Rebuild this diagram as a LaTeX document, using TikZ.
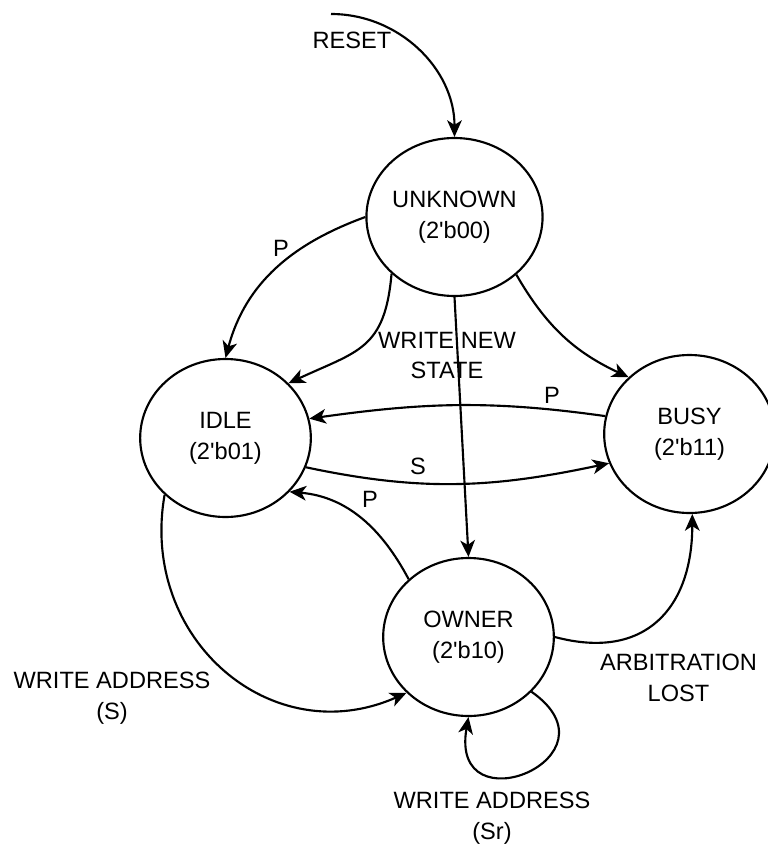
\documentclass[tikz,border=0pt]{standalone}
\usepackage{fontspec}
\setmainfont{Liberation Sans}
\usetikzlibrary{shapes,shapes.geometric,arrows.meta,calc}
\tikzset{
  st_font/.style = {font=\fontsize{17.7}{23}\selectfont},
  st_n/.style = {ellipse, draw=black, line width=1.6pt, minimum width=128pt, minimum height=118.5pt, inner sep=0pt, align=center, st_font},
  lbl_t/.style = {align=center, inner sep=0pt, st_font},
  arr_e/.style = {line width=1.6pt, -{Stealth[length=12.5pt,width=11pt,inset=3.5pt]}}
}

\begin{document}
\begin{tikzpicture}[x=0.75pt,y=0.75pt]
\useasboundingbox (0,0) rectangle (767,-845);
\node [st_n] (unknown) at (454.5,-217) {UNKNOWN\\(2\textquotesingle b00)};
\node [st_n] (idle) at (225.5,-438) {IDLE\\(2\textquotesingle b01)};
\node [st_n] (busy) at (689.5,-434) {BUSY\\(2\textquotesingle b11)};
\node [st_n] (owner) at (468.5,-637) {OWNER\\(2\textquotesingle b10)};
\coordinate (rst) at (331,-14);

\node [lbl_t] (l_reset) at (352,-40) {RESET};
\node [lbl_t] (l_p_ui) at (281,-248) {P};
\node [lbl_t] (l_wns) at (447,-355.5) {WRITE NEW\\STATE};
\node [lbl_t] (l_p_bi) at (552,-395) {P};
\node [lbl_t] (l_s_ib) at (418,-466) {S};
\node [lbl_t] (l_p_oi) at (370,-499) {P};
\node [lbl_t] (l_wa_s) at (112,-698.5) {WRITE ADDRESS\\(S)};
\node [lbl_t] (l_arb) at (678.5,-678) {ARBITRATION\\LOST};
\node [lbl_t] (l_wa_sr) at (492,-818.5) {WRITE ADDRESS\\(Sr)};

\draw [arr_e] (rst) to[out=0,in=90] (unknown.90);
\draw [arr_e] (unknown.180) to[out=200,in=75] (idle.90);
\draw [arr_e] (unknown.222) to[out=265,in=25,looseness=1.3] (idle.41);
\draw [arr_e] (unknown.270) -- (owner.90);
\draw [arr_e] (unknown.317) to[out=300,in=155] (busy.137);
\draw [arr_e] (busy.168) to[out=172,in=8] (idle.13);
\draw [arr_e] (idle.340) to[out=-12,in=192] (busy.200);
\draw [arr_e] (owner.136) to[out=118,in=-5] (idle.320);
\draw [arr_e] (idle.223) to[out=260,in=204,looseness=1.2] (owner.222);
\draw [arr_e] (owner.0) to[out=-15,in=270,looseness=1.3] (busy.272);
\draw [arr_e] (owner.319) to[out=-35,in=260,looseness=4.3] (owner.270);
\end{tikzpicture}
\end{document}
